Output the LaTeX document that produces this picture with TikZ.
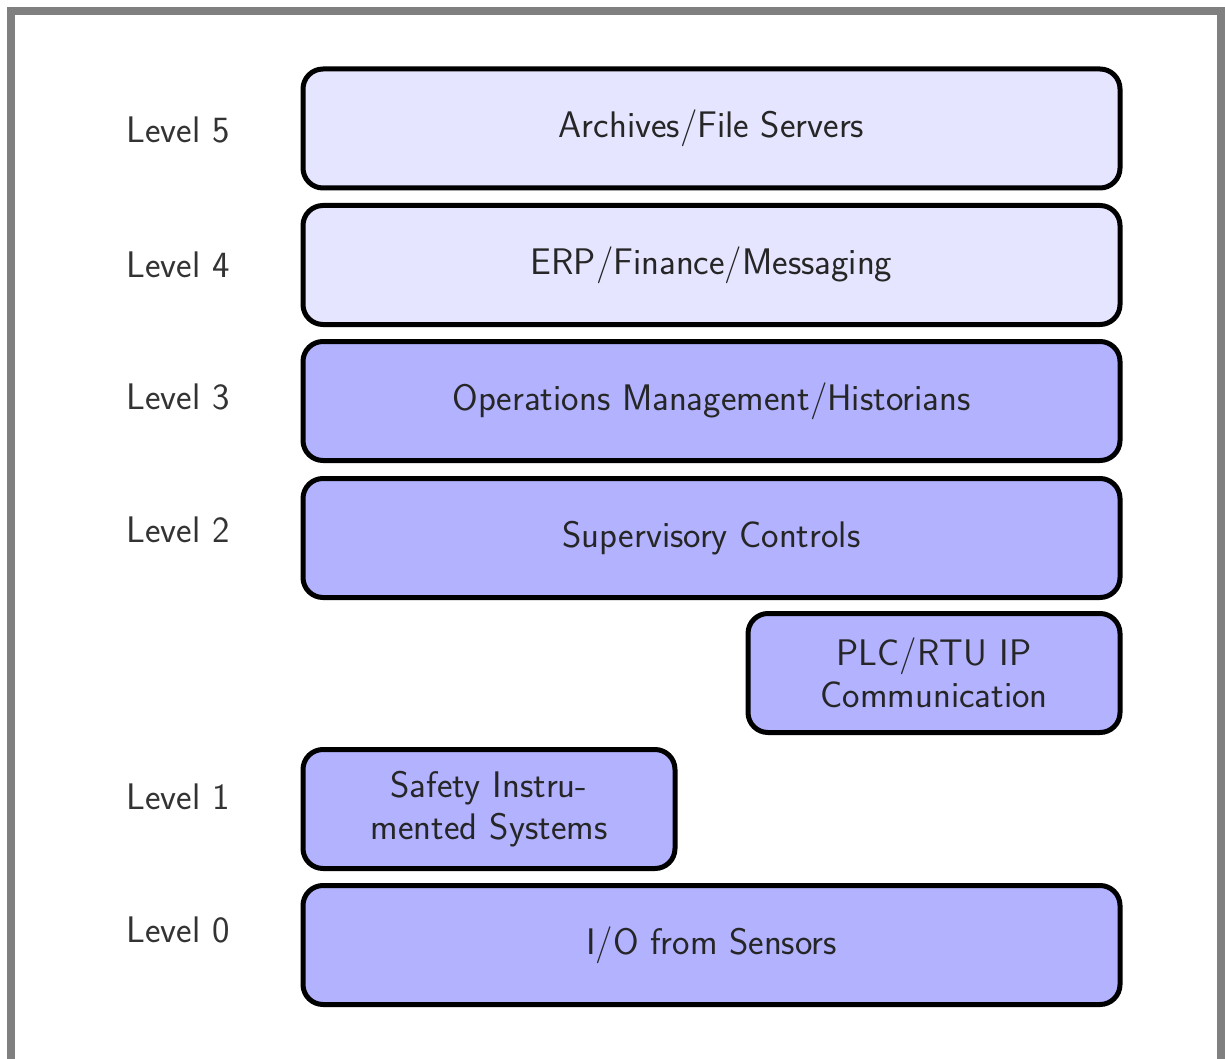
\documentclass[tikz,border=0pt]{standalone}
\usepackage{fontspec}
\begin{document}
\begin{tikzpicture}[x=0.5pt,y=-0.5pt,
  layer/.style={draw=black, line width=2.5pt, rounded corners=10pt,
    minimum height=59.5pt, inner sep=0pt, align=center,
    font=\sffamily\fontsize{18.5}{21}\selectfont, text=black!85},
  wide/.style={layer, minimum width=408.5pt},
  half/.style={layer, minimum width=186pt, text width=180pt},
  lightfill/.style={fill=blue!10},
  darkfill/.style={fill=blue!30},
  lvl/.style={font=\sffamily\fontsize{18.5}{21}\selectfont, text=black!80, inner sep=0pt}]
  \useasboundingbox (0,0) rectangle (1225,1059);
  % outer frame
  \draw[gray, line width=4pt] (11,11) rectangle (1221,1063);

  % level labels
  \node[lvl] (l5) at (178,130) {Level 5};
  \node[lvl] (l4) at (178,265) {Level 4};
  \node[lvl] (l3) at (178,397) {Level 3};
  \node[lvl] (l2) at (178,530) {Level 2};
  \node[lvl] (l1) at (178,797) {Level 1};
  \node[lvl] (l0) at (178,930) {Level 0};

  % layer boxes
  \node[wide, lightfill] (archives) at (711.5,128.5) {Archives/File Servers};
  \node[wide, lightfill] (erp) at (711.5,265) {ERP/Finance/Messaging};
  \node[wide, darkfill] (ops) at (711.5,401) {Operations Management/Historians};
  \node[wide, darkfill] (sup) at (711.5,538) {Supervisory Controls};
  \node[half, darkfill] (plc) at (934,673) {PLC/RTU IP\\Communication};
  \node[half, darkfill] (sis) at (489,809) {Safety Instru-\\mented Systems};
  \node[wide, darkfill] (io) at (711.5,945) {I/O from Sensors};
\end{tikzpicture}
\end{document}
